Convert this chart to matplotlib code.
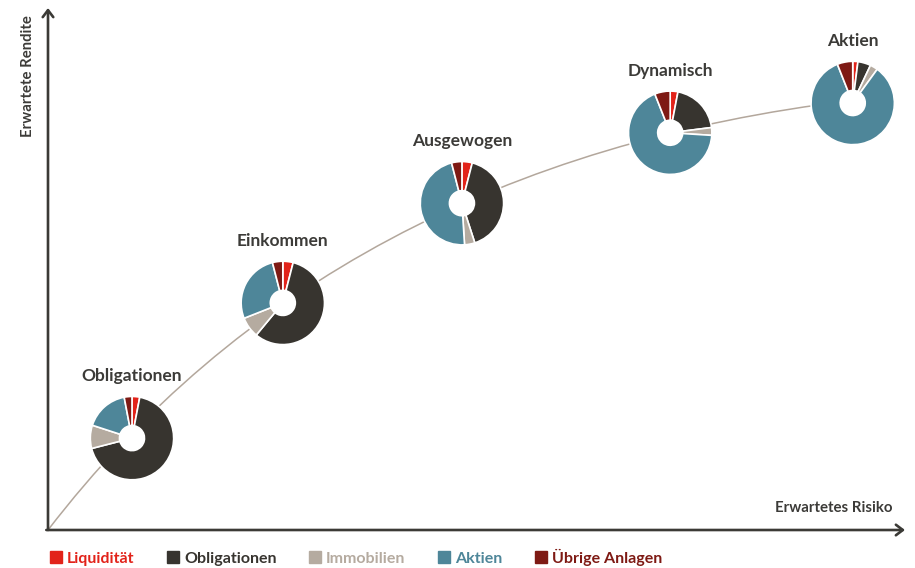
import matplotlib.pyplot as plt
from matplotlib.lines import Line2D
from matplotlib.patches import Circle, PathPatch
from matplotlib.path import Path

plt.rcParams["font.family"] = ["Lato", "DejaVu Sans"]

# asset classes, in the order the wedges run clockwise from 12 o'clock
categories = ["Liquidität", "Obligationen", "Immobilien", "Aktien", "Übrige Anlagen"]
colors = ["#e2231a", "#37342f", "#b5aba0", "#4e8699", "#7e1a14"]

portfolios = ["Obligationen", "Einkommen", "Ausgewogen", "Dynamisch", "Aktien"]
liquiditaet = [3, 4, 4, 3, 2]
obligationen = [68, 57, 41, 20, 5]
immobilien = [9, 8, 4, 3, 3]
aktien = [17, 27, 47, 68, 84]
uebrige = [3, 4, 4, 6, 6]

# position of each portfolio on the risk/return plane (0-100 scale)
risk = [9.8, 27.4, 48.3, 72.6, 93.9]
ret = [17.6, 43.5, 62.6, 76.1, 81.8]

AXIS_COLOR = "#3b3a36"
TEXT_COLOR = "#3c3b38"
CURVE_COLOR = "#b3a79c"

fig = plt.figure(figsize=(9.15, 5.68), dpi=100)
ax = fig.add_axes([48 / 915, 38 / 568, 857 / 915, 522 / 568])
ax.set_xlim(0, 100)
ax.set_ylim(0, 100)
ax.axis("off")

# efficient-frontier style curve from the origin up to the last portfolio
curve = Path([(0, 0), (32.9, 70.3), (risk[-1], ret[-1] + 0.5)],
             [Path.MOVETO, Path.CURVE3, Path.CURVE3])
ax.add_patch(PathPatch(curve, facecolor="none", edgecolor=CURVE_COLOR, lw=1.1, zorder=1))

# axis arrows
arrow = dict(arrowstyle="->,head_length=0.5,head_width=0.38", lw=1.9,
             color=AXIS_COLOR, shrinkA=0, shrinkB=0)
ax.annotate("", xy=(0, 1), xytext=(0, 0), xycoords="axes fraction", arrowprops=arrow)
ax.annotate("", xy=(1, 0), xytext=(-0.002, 0), xycoords="axes fraction", arrowprops=arrow)

fig.text(28 / 915, 1 - 76 / 568, "Erwartete Rendite", rotation=90, ha="center", va="center",
         fontsize=10.7, fontweight="bold", color=TEXT_COLOR)
fig.text(834 / 915, 1 - 508 / 568, "Erwartetes Risiko", ha="center", va="center",
         fontsize=10.8, fontweight="bold", color=TEXT_COLOR)

# one donut per portfolio
pie_w = 85 / 857 * 100
pie_h = 85 / 522 * 100
for i, name in enumerate(portfolios):
    values = [liquiditaet[i], obligationen[i], immobilien[i], aktien[i], uebrige[i]]
    inset = ax.inset_axes([risk[i] - pie_w / 2, ret[i] - pie_h / 2, pie_w, pie_h],
                          transform=ax.transData, zorder=3)
    inset.pie(values, colors=colors, startangle=90, counterclock=False, radius=1,
              wedgeprops=dict(width=0.7, edgecolor="white", linewidth=1.2))
    inset.add_patch(Circle((0, 0), 0.3, facecolor="white", edgecolor="none"))
    inset.set_xlim(-1.02, 1.02)
    inset.set_ylim(-1.02, 1.02)
    inset.set_aspect("equal")
    inset.axis("off")
    ax.annotate(name, (risk[i], ret[i]), xytext=(0, 41), textcoords="offset points",
                ha="center", va="baseline", fontsize=12.5, fontweight="bold",
                color=TEXT_COLOR)

handles = [Line2D([], [], marker="s", linestyle="", markersize=8.5, color=c) for c in colors]
fig.legend(handles, categories, loc="center left", bbox_to_anchor=(36 / 915, 1 - 557 / 568),
           ncol=5, frameon=False, handlelength=0.7, handletextpad=0.35, columnspacing=2.05,
           labelcolor="markerfacecolor", prop=dict(weight="bold", size=11.5))

fig.savefig("out.png", dpi=100)
